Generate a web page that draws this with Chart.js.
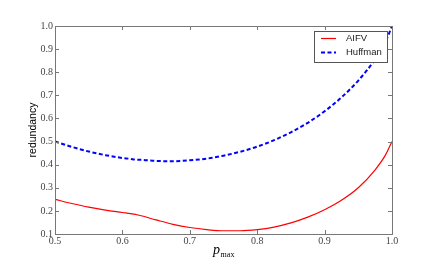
<!DOCTYPE html>
<html><head><meta charset="utf-8">
<script src="https://cdn.jsdelivr.net/npm/chart.js@4.4.1/dist/chart.umd.min.js"></script>
<style>html,body{margin:0;padding:0;background:#fff}#wrap{width:436px;height:261px}</style>
</head><body><div id="wrap"><canvas id="c" width="436" height="261"></canvas></div>
<script>
const pValues = [0.5,0.525,0.55,0.575,0.6,0.612,0.618,0.622,0.625,0.65,0.675,0.7,0.725,0.75,0.775,0.8,0.825,0.85,0.875,0.9,0.925,0.95,0.975,0.99,1.0];
const aifv    = [0.250,0.232,0.216,0.203,0.193,0.188,0.186,0.183,0.181,0.161,0.142,0.128,0.119,0.114,0.114,0.119,0.130,0.148,0.173,0.205,0.246,0.300,0.378,0.440,0.500];
const huffman = [0.500,0.477,0.457,0.441,0.429,0.425,0.422,0.421,0.421,0.416,0.415,0.419,0.426,0.439,0.456,0.478,0.506,0.540,0.581,0.631,0.691,0.764,0.856,0.929,1.000];
const xTicks = [0.5,0.6,0.7,0.8,0.9,1.0];
const yTicks = [0.1,0.2,0.3,0.4,0.5,0.6,0.7,0.8,0.9,1.0];
const seriesNames = ['AIFV','Huffman'];
const yTitle = 'redundancy';

const toPts = arr => pValues.map((p,i)=>({x:p,y:arr[i]}));

const frame = {
  id:'frame',
  afterDraw(chart){
    const {ctx, chartArea:a, scales:{x,y}} = chart;
    ctx.save();
    ctx.strokeStyle = '#777'; ctx.lineWidth = 1;
    ctx.strokeRect(Math.round(a.left)+0.5, Math.round(a.top)+0.5, Math.round(a.right-a.left), Math.round(a.bottom-a.top));
    ctx.beginPath();
    xTicks.forEach(v=>{const px=Math.round(x.getPixelForValue(v))+0.5;
      ctx.moveTo(px,a.bottom); ctx.lineTo(px,a.bottom-4);
      ctx.moveTo(px,a.top); ctx.lineTo(px,a.top+4);});
    yTicks.forEach(v=>{const py=Math.round(y.getPixelForValue(v))+0.5;
      ctx.moveTo(a.left,py); ctx.lineTo(a.left+4,py);
      ctx.moveTo(a.right,py); ctx.lineTo(a.right-4,py);});
    ctx.stroke();
    // legend
    const lx=314, ly=31, lw=73, lh=31;
    ctx.fillStyle='#fff'; ctx.fillRect(lx,ly,lw,lh);
    ctx.strokeStyle='#555'; ctx.strokeRect(lx+0.5,ly+0.5,lw,lh);
    ctx.font='9.5px "Liberation Sans", Arial, sans-serif';
    ctx.textBaseline='middle'; ctx.textAlign='left'; ctx.fillStyle='#222';
    const ds = chart.data.datasets;
    [38.5,52.5].forEach((yy,i)=>{
      ctx.beginPath();
      ctx.strokeStyle = ds[i].borderColor; ctx.lineWidth = ds[i].borderWidth;
      ctx.setLineDash(ds[i].borderDash||[]);
      ctx.moveTo(321,yy); ctx.lineTo(336,yy); ctx.stroke();
      ctx.setLineDash([]);
      ctx.fillText(seriesNames[i], 346, yy);
    });
    // axis titles
    ctx.fillStyle='#000';
    ctx.save();
    ctx.translate(33,(a.top+a.bottom)/2);
    ctx.rotate(-Math.PI/2);
    ctx.textAlign='center'; ctx.textBaseline='middle';
    ctx.font='10.5px "Liberation Sans", Arial, sans-serif';
    ctx.fillText(yTitle,0,0);
    ctx.restore();
    const cx=(a.left+a.right)/2;
    ctx.textAlign='left'; ctx.textBaseline='alphabetic';
    ctx.font='italic 14px "Liberation Serif", serif';
    const pw = ctx.measureText('p').width;
    ctx.font='8px "Liberation Serif", serif';
    const mw = ctx.measureText('max').width;
    const sx = cx - (pw+mw)/2;
    ctx.font='italic 14px "Liberation Serif", serif';
    ctx.fillText('p', sx, 254);
    ctx.font='8px "Liberation Serif", serif';
    ctx.fillText('max', sx+pw+0.5, 257);
    ctx.restore();
  }
};

new Chart(document.getElementById('c'), {
  type:'line',
  data:{datasets:[
    {label:seriesNames[0], data:toPts(aifv), borderColor:'#ff0000', borderWidth:1.2, pointRadius:0, cubicInterpolationMode:'monotone', fill:false},
    {label:seriesNames[1], data:toPts(huffman), borderColor:'#0000ff', borderWidth:2, borderDash:[4,2.5], pointRadius:0, cubicInterpolationMode:'monotone', fill:false}
  ]},
  options:{
    responsive:false, animation:false, events:[],
    layout:{padding:{left:0,right:44,top:26,bottom:0}},
    plugins:{legend:{display:false}, tooltip:{enabled:false}},
    scales:{
      x:{type:'linear', min:0.5, max:1.0,
        afterFit(s){s.height=27;},
        afterBuildTicks(s){s.ticks = xTicks.map(v=>({value:v}));},
        grid:{display:false, drawTicks:false},
        border:{display:false},
        ticks:{padding:1, color:'#444', font:{family:'"Liberation Serif", serif', size:10}, callback:v=>v.toFixed(1), maxRotation:0, autoSkip:false}},
      y:{type:'linear', min:0.1, max:1.0,
        afterFit(s){s.width=55;},
        afterBuildTicks(s){s.ticks = yTicks.map(v=>({value:v}));},
        grid:{display:false, drawTicks:false},
        border:{display:false},
        ticks:{padding:2, color:'#444', font:{family:'"Liberation Serif", serif', size:10}, callback:v=>v.toFixed(1), autoSkip:false}}
    }
  },
  plugins:[frame]
});
</script></body></html>
